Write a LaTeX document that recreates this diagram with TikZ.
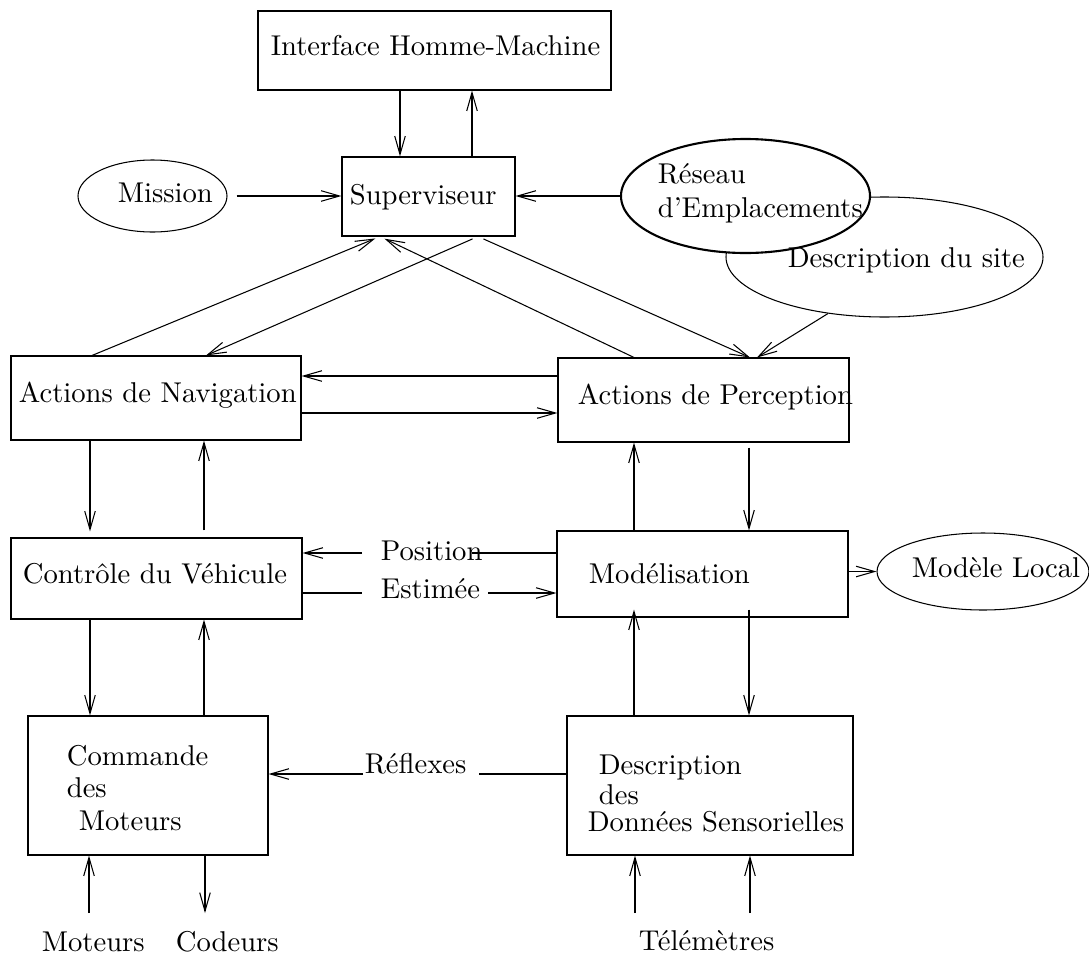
\documentclass[tikz,border=0pt]{standalone}
\usetikzlibrary{arrows.meta,shapes.geometric}
\newlength\pxu \setlength\pxu{0.02cm}
\begin{document}
\begin{tikzpicture}[x=0.02cm,y=-0.02cm, line width=0.6pt,
  arr/.style={-{Straight Barb[length=10.5pt,width=6pt]}},
  box/.style={draw, rectangle, inner sep=0pt},
  oval/.style={draw, ellipse, inner sep=0pt},
  txt/.style={inner sep=0pt, anchor=base west, font=\fontsize{10}{12}\selectfont, scale=1.63, transform shape}]
\useasboundingbox (0,0) rectangle (1089,957);

% boxes
\node[box, minimum width=353\pxu, minimum height=79\pxu] (imh) at (434.5,50.5) {};
\node[box, minimum width=173\pxu, minimum height=79\pxu] (sup) at (428.5,196.5) {};
\node[box, minimum width=290\pxu, minimum height=84\pxu] (nav) at (156,398) {};
\node[box, minimum width=291\pxu, minimum height=84\pxu] (per) at (703.5,400) {};
\node[box, minimum width=291\pxu, minimum height=81\pxu] (ctl) at (156.5,578.5) {};
\node[box, minimum width=291\pxu, minimum height=86\pxu] (mod) at (702.5,574) {};
\node[box, minimum width=240\pxu, minimum height=139\pxu] (cmd) at (148,785.5) {};
\node[box, minimum width=286\pxu, minimum height=139\pxu] (dsd) at (710,785.5) {};

% ellipses
\node[oval, minimum width=149\pxu, minimum height=72\pxu] (mis) at (152.5,196) {};
\node[oval, minimum width=317\pxu, minimum height=120\pxu] (desc) at (884.5,257) {};
\node[oval, fill=white, line width=1.2pt, minimum width=249\pxu, minimum height=114\pxu] (res) at (745.5,196) {};
\node[oval, minimum width=212\pxu, minimum height=77\pxu] (loc) at (983,571.5) {};

% texts
\node[txt] (imh-t) at (270,55) {Interface Homme-Machine};
\node[txt] (sup-t) at (349,204) {Superviseur};
\node[txt] (mis-t) at (117,202) {Mission};
\node[txt] (res-t1) at (657,183) {Réseau};
\node[txt] (res-t2) at (657,217) {d'Emplacements};
\node[txt] (desc-t) at (787,267) {Description du site};
\node[txt] (nav-t) at (18,402) {Actions de Navigation};
\node[txt] (per-t) at (577,404) {Actions de Perception};
\node[txt] (ctl-t) at (22,583) {Contrôle du Véhicule};
\node[txt] (mod-t) at (588,583) {Modélisation};
\node[txt] (pos-t) at (380,560) {Position};
\node[txt] (est-t) at (380,598) {Estimée};
\node[txt] (loc-t) at (911,577) {Modèle Local};
\node[txt] (cmd-t1) at (66,765) {Commande};
\node[txt] (cmd-t2) at (66,797) {des};
\node[txt] (cmd-t3) at (78,830) {Moteurs};
\node[txt] (ref-t) at (364,773) {Réflexes};
\node[txt] (dsd-t1) at (598,774) {Description};
\node[txt] (dsd-t2) at (598,804) {des};
\node[txt] (dsd-t3) at (587,831) {Données Sensorielles};
\node[txt] (mot-t) at (41,951) {Moteurs};
\node[txt] (cod-t) at (175,951) {Codeurs};
\node[txt] (tel-t) at (638,950) {Télémètres};

% free ends
\coordinate (posR) at (472,553);
\coordinate (posL) at (362,553);
\coordinate (estL) at (362,593);
\coordinate (estR) at (488,593);
\coordinate (refR) at (479,774);
\coordinate (refL) at (363,774);
\coordinate (motB) at (89,913);
\coordinate (codB) at (205,913);
\coordinate (telB1) at (635,913);
\coordinate (telB2) at (750,913);

% connectors
\draw[arr] (400,0 |- imh.south) -- (400,0 |- sup.north);
\draw[arr] (472,0 |- sup.north) -- (472,0 |- imh.south);
\draw[arr, shorten <=9\pxu] (mis.east) -- (sup.west |- mis.east);
\draw[arr] (res.west) -- (sup.east |- res.west);

\draw[arr, shorten >=5\pxu] (92,0 |- nav.north) -- (380,0 |- sup.south);
\draw[arr, shorten >=5\pxu] (634,0 |- per.north) -- (380,0 |- sup.south);
\draw[arr, shorten <=6\pxu] (478,0 |- sup.south) -- (206,0 |- nav.north);
\draw[arr, shorten <=6\pxu] (478,0 |- sup.south) -- (750,0 |- per.north);
\draw[arr] (desc.225) -- (757,0 |- per.north);

\draw[arr] (per.west |- 0,376) -- (nav.east |- 0,376);
\draw[arr] (nav.east |- 0,413) -- (per.west |- 0,413);

\draw[arr, shorten >=6\pxu] (90,0 |- nav.south) -- (90,0 |- ctl.north);
\draw[arr, shorten <=7\pxu] (204,0 |- ctl.north) -- (204,0 |- nav.south);
\draw[arr] (634,0 |- mod.north) -- (634,0 |- per.south);
\draw[arr, shorten <=5\pxu] (749,0 |- per.south) -- (749,0 |- mod.north);

\draw (mod.west |- posR) -- (posR);
\draw[arr] (posL) -- (ctl.east |- posL);
\draw (ctl.east |- estL) -- (estL);
\draw[arr] (estR) -- (mod.west |- estR);
\draw[arr] (mod.east |- loc.west) -- (loc.west);

\draw[arr] (90,0 |- ctl.south) -- (90,0 |- cmd.north);
\draw[arr] (204,0 |- cmd.north) -- (204,0 |- ctl.south);
\draw[arr, shorten <=-8\pxu] (749,0 |- mod.south) -- (749,0 |- dsd.north);
\draw[arr, shorten >=-8\pxu] (634,0 |- dsd.north) -- (634,0 |- mod.south);

\draw (dsd.west |- refR) -- (refR);
\draw[arr] (refL) -- (cmd.east |- refL);

\draw[arr] (motB) -- (motB |- cmd.south);
\draw[arr] (codB |- cmd.south) -- (codB);
\draw[arr] (telB1) -- (telB1 |- dsd.south);
\draw[arr] (telB2) -- (telB2 |- dsd.south);
\end{tikzpicture}
\end{document}
